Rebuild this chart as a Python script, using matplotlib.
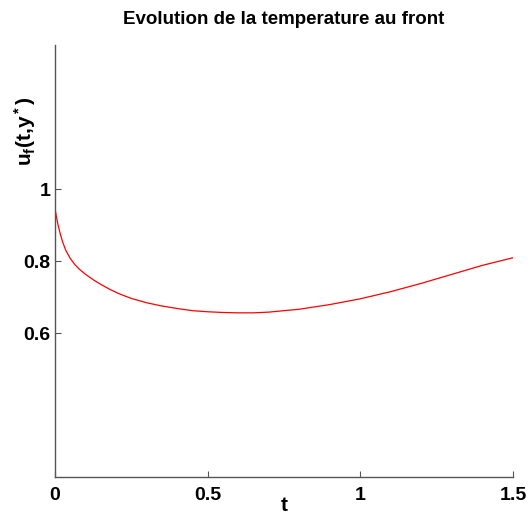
import numpy as np
import matplotlib
matplotlib.use('Agg')
import matplotlib.pyplot as plt

# valeurs
t = [0.0, 0.005, 0.01, 0.017, 0.025, 0.035, 0.05, 0.065, 0.08, 0.1, 0.125,
     0.15, 0.18, 0.21, 0.25, 0.3, 0.35, 0.4, 0.45, 0.5, 0.55, 0.6, 0.65, 0.7,
     0.75, 0.8, 0.9, 1.0, 1.1, 1.2, 1.3, 1.4, 1.5]
u_front = [0.946, 0.921, 0.900, 0.876, 0.853, 0.830, 0.807, 0.790, 0.777, 0.763,
           0.748, 0.735, 0.721, 0.709, 0.696, 0.684, 0.675, 0.668, 0.662, 0.659,
           0.657, 0.656, 0.656, 0.658, 0.662, 0.666, 0.679, 0.695, 0.715, 0.738,
           0.763, 0.788, 0.809]

xticks = [0, 0.5, 1, 1.5]
xticklabels = ['0', '0.5', '1', '1.5']
yticks = [0.6, 0.8, 1]
yticklabels = ['0.6', '0.8', '1']

plt.rcParams['font.family'] = ['Liberation Sans', 'DejaVu Sans']
plt.rcParams['font.weight'] = 'bold'
plt.rcParams['mathtext.fontset'] = 'custom'
plt.rcParams['mathtext.rm'] = 'Liberation Sans:bold'
plt.rcParams['mathtext.it'] = 'Liberation Sans:bold'
plt.rcParams['mathtext.bf'] = 'Liberation Sans:bold'

fig = plt.figure(figsize=(5.28, 5.14), dpi=100)
ax = fig.add_axes([55/528, 1 - 477/514, 458/528, 432/514])

ax.plot(t, u_front, color='#ff0000', lw=0.9)

ax.set_xlim(0, 1.5)
ax.set_ylim(0.2, 1.4)
ax.set_xticks(xticks)
ax.set_xticklabels(xticklabels, fontsize=14, fontweight='bold')
ax.set_yticks(yticks)
ax.set_yticklabels(yticklabels, fontsize=14, fontweight='bold')
ax.tick_params(direction='in', length=4, width=0.8, color='#555555')
ax.tick_params(axis='x', pad=7)
ax.tick_params(axis='y', pad=3)

for s in ['top', 'right']:
    ax.spines[s].set_visible(False)
for s in ['left', 'bottom']:
    ax.spines[s].set_color('#555555')
    ax.spines[s].set_linewidth(1.0)

ax.set_title('Evolution de la temperature au front', fontsize=13.5,
             fontweight='bold', pad=15)
ax.set_xlabel('t', fontsize=15, fontweight='bold', va='center')
ax.xaxis.set_label_coords(0.5, -0.067)
ax.set_ylabel(r'u$_f$(t,y$^*$)', fontsize=15, fontweight='bold', va='center')
ax.yaxis.set_label_coords(-0.066, 0.80)

fig.savefig('out.png', dpi=100)
